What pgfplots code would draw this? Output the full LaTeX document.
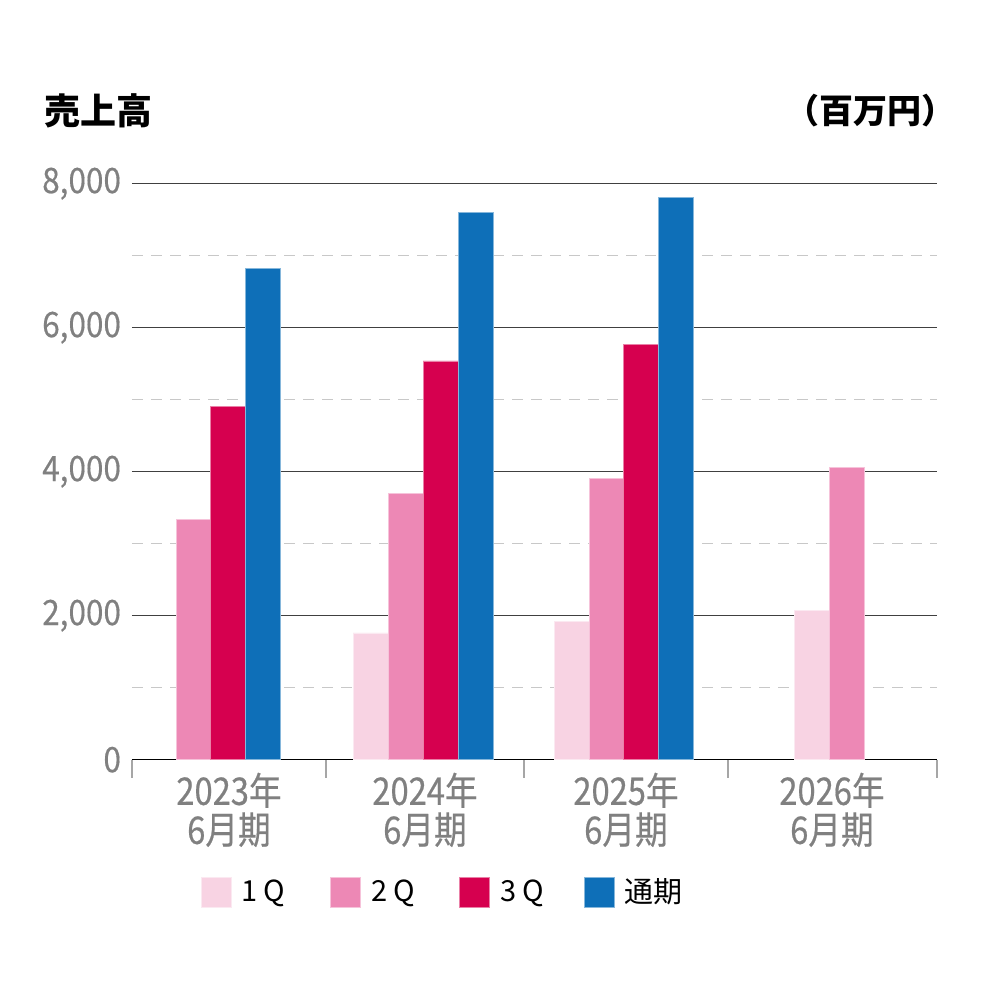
\documentclass[border=0pt]{standalone}
\usepackage{fontspec}
\setmainfont{Noto Sans CJK JP}
\newfontfamily\condfont[FakeStretch=0.86, FakeBold=0.5]{Noto Sans CJK JP}
\newfontfamily\yfont[FakeStretch=0.9, FakeBold=0.4]{Noto Sans CJK JP}
\usepackage{pgfplots}
\pgfplotsset{compat=1.18}
\definecolor{qone}{HTML}{F8D3E3}
\definecolor{qtwo}{HTML}{ED88B5}
\definecolor{qthree}{HTML}{D6004F}
\definecolor{qfull}{HTML}{0E6FB8}
\definecolor{tickgray}{HTML}{808080}
\definecolor{gridgray}{HTML}{404040}
\definecolor{dashgray}{HTML}{C8C8C8}
\pgfplotsset{
  sqlegend/.style={legend image code/.code={%
    \fill[##1] (0pt,-7.5pt) rectangle (15pt,7.5pt);
    \path (20pt,0pt);}},
}
\begin{document}
\begin{tikzpicture}
\useasboundingbox (0,0) rectangle (500pt,500pt);
\begin{axis}[
  at={(66pt,120.15pt)}, anchor=south west,
  scale only axis, width=402.5pt, height=288pt,
  xmin=132, xmax=937, ymin=0, ymax=8000,
  axis x line*=bottom, axis y line*=left,
  x axis line style={black, line width=0.6pt, -},
  y axis line style={draw=none},
  xtick={132,326,524,728,937},
  xticklabels={},
  xtick align=outside,
  major tick length=9pt,
  x tick style={tickgray!70, line width=0.6pt},
  extra x ticks={229,425,626,832},
  extra x tick labels={{2023年\\6月期},{2024年\\6月期},{2025年\\6月期},{2026年\\6月期}},
  extra x tick style={major tick length=0pt, tick style={draw=none},
    xticklabel style={align=center, text=tickgray, yshift=-3pt,
      font=\condfont\fontsize{19}{19.5}\selectfont}},
  ytick={0,2000,4000,6000,8000},
  minor ytick={1000,3000,5000,7000},
  y tick style={draw=none},
  minor y tick style={draw=none},
  ymajorgrids, yminorgrids,
  major grid style={gridgray, line width=0.5pt},
  minor grid style={dashgray, line width=0.5pt, dash pattern=on 5.5pt off 4pt},
  scaled y ticks=false,
  /pgf/number format/assume math mode=true,
  /pgf/number format/1000 sep={,},
  yticklabel style={text=tickgray, font=\yfont\fontsize{17.5}{20}\selectfont, xshift=-2pt},
  legend columns=4,
  legend style={at={(axis description cs:0.0853,-0.2297)}, anchor=west,
    draw=none, fill=none, inner sep=0pt, outer sep=0pt, column sep=0pt,
    font=\fontsize{14.5}{16}\selectfont,
    nodes={inner sep=0pt, outer sep=0pt}},
  legend cell align=left,
]
\addplot[ybar, bar width=35, bar shift=0pt, fill=qone, draw=qone!50!white, line width=0.4pt, sqlegend]
  coordinates {(370.5,1760) (571.5,1926) (811.5,2075)};
\addlegendentry{\makebox[44.5pt][l]{1\hspace{3pt}Q}}
\addplot[ybar, bar width=35, bar shift=0pt, fill=qtwo, draw=qtwo!50!white, line width=0.4pt, sqlegend]
  coordinates {(193.5,3339) (405.5,3700) (606.5,3908) (846.5,4061)};
\addlegendentry{\makebox[44pt][l]{2\hspace{3pt}Q}}
\addplot[ybar, bar width=35, bar shift=0pt, fill=qthree, draw=qthree!50!white, line width=0.4pt, sqlegend]
  coordinates {(228.2,4903) (440.6,5538) (641.2,5769)};
\addlegendentry{\makebox[42pt][l]{3\hspace{3pt}Q}}
\addplot[ybar, bar width=35, bar shift=0pt, fill=qfull, draw=qfull!50!white, line width=0.4pt, sqlegend]
  coordinates {(262.8,6825) (475.5,7597) (676,7811)};
\addlegendentry{通期}
\end{axis}
\node[anchor=west, font=\bfseries\fontsize{18}{20}\selectfont, inner sep=0pt] at (22pt,444.5pt) {売上高};
\node[anchor=east, font=\bfseries\fontsize{17}{20}\selectfont, inner sep=0pt] at (478pt,444.5pt) {（百万円）};
\end{tikzpicture}
\end{document}
